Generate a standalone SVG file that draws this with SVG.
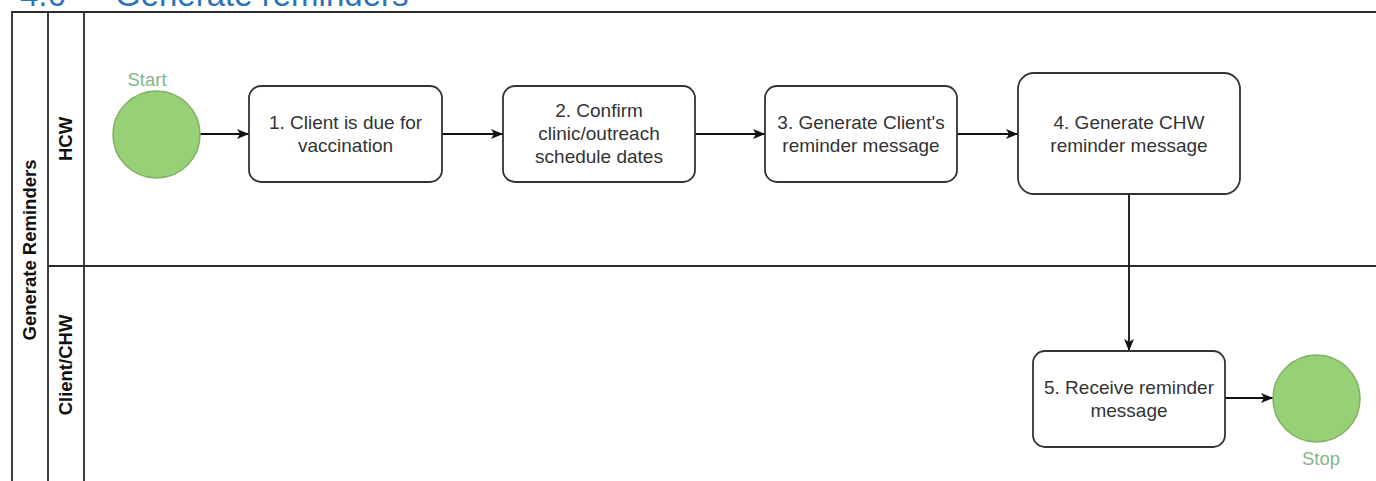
<svg xmlns="http://www.w3.org/2000/svg" width="1376" height="481" viewBox="0 0 1376 481">
<style>
.lane{fill:none;stroke:#2b2b2b;stroke-width:1.8}
.box{fill:#ffffff;stroke:#333333;stroke-width:1.8}
.ev{fill:#97d077;stroke:#82b366;stroke-width:1.6}
.t{font-family:"Liberation Sans",Arial,sans-serif;font-size:19px;fill:#333333;text-anchor:middle}
.lbl{font-family:"Liberation Sans",Arial,sans-serif;font-size:18.5px;font-weight:bold;fill:#111111;text-anchor:middle}
.evt{font-family:"Liberation Sans",Arial,sans-serif;font-size:18.5px;fill:#86b58a;text-anchor:middle}
.head{font-family:"Liberation Sans",Arial,sans-serif;font-size:33px;fill:#2e74b5}
.edge{fill:none;stroke:#111111;stroke-width:1.8}
</style>
<defs>
<marker id="arr" viewBox="0 0 12 10" refX="12" refY="5" markerWidth="12" markerHeight="10" markerUnits="userSpaceOnUse" orient="auto">
<path d="M0,0 L12,5 L0,10 L3,5 Z" fill="#111111"/>
</marker>
</defs>
<rect width="1376" height="481" fill="#ffffff"/>
<g id="heading">
<text class="head" x="20" y="6">4.6</text>
<text class="head" x="115" y="6">Generate reminders</text>
</g>
<g id="pool">
<path class="lane" d="M12,481 V12 H1376 M48,12 V481 M84,12 V481 M48,266 H1376"/>
<text class="lbl" transform="translate(36,250) rotate(-90)">Generate Reminders</text>
</g>
<g id="lane-hcw">
<text class="lbl" transform="translate(72,139) rotate(-90)">HCW</text>
</g>
<g id="lane-client">
<text class="lbl" transform="translate(72,365) rotate(-90)">Client/CHW</text>
</g>
<g id="connectors">
<line class="edge" x1="200" y1="134" x2="249" y2="134" marker-end="url(#arr)"/>
<line class="edge" x1="442" y1="134" x2="503" y2="134" marker-end="url(#arr)"/>
<line class="edge" x1="695" y1="134" x2="765" y2="134" marker-end="url(#arr)"/>
<line class="edge" x1="957" y1="134" x2="1018" y2="134" marker-end="url(#arr)"/>
<line class="edge" x1="1129" y1="194" x2="1129" y2="351" marker-end="url(#arr)"/>
<line class="edge" x1="1225" y1="398" x2="1273" y2="398" marker-end="url(#arr)"/>
</g>
<g id="start">
<circle class="ev" cx="156.5" cy="134.5" r="43.5"/>
<text class="evt" x="147" y="86">Start</text>
</g>
<g id="n1">
<rect class="box" x="249" y="86" width="193" height="96" rx="12"/>
<text class="t" x="345.5" y="129">1. Client is due for</text>
<text class="t" x="345.5" y="152">vaccination</text>
</g>
<g id="n2">
<rect class="box" x="503" y="86" width="192" height="96" rx="12"/>
<text class="t" x="599" y="117">2. Confirm</text>
<text class="t" x="599" y="140">clinic/outreach</text>
<text class="t" x="599" y="163">schedule dates</text>
</g>
<g id="n3">
<rect class="box" x="765" y="86" width="192" height="96" rx="12"/>
<text class="t" x="861" y="129">3. Generate Client's</text>
<text class="t" x="861" y="152">reminder message</text>
</g>
<g id="n4">
<rect class="box" x="1018" y="73" width="222" height="121" rx="16"/>
<text class="t" x="1129" y="129">4. Generate CHW</text>
<text class="t" x="1129" y="152">reminder message</text>
</g>
<g id="n5">
<rect class="box" x="1033" y="351" width="192" height="96" rx="12"/>
<text class="t" x="1129" y="394">5. Receive reminder</text>
<text class="t" x="1129" y="417">message</text>
</g>
<g id="stop">
<circle class="ev" cx="1316.5" cy="398.5" r="43.5"/>
<text class="evt" x="1321" y="465">Stop</text>
</g>
</svg>
